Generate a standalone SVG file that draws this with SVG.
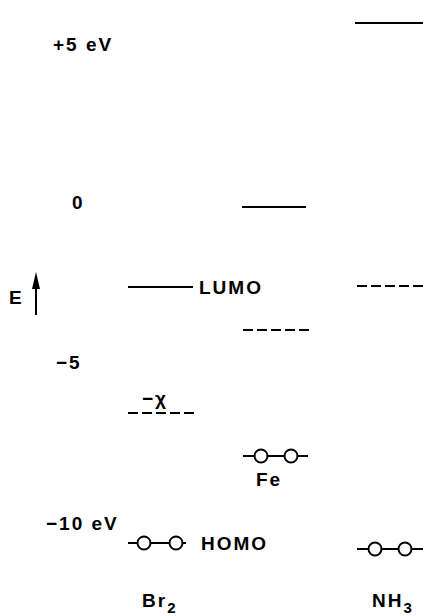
<svg xmlns="http://www.w3.org/2000/svg" width="423" height="616" viewBox="0 0 423 616">
<defs>
<style>
text{font-family:"Liberation Sans",Arial,sans-serif;font-weight:bold;font-size:19px;fill:#000;letter-spacing:2px}
.lv{stroke:#000;stroke-width:2;fill:none}
.ds{stroke:#000;stroke-width:2;fill:none;stroke-dasharray:10,4}
.oc{stroke:#000;stroke-width:2;fill:#fff}
.sub{font-size:15px}
</style>
</defs>
<rect width="423" height="616" fill="#fff"/>
<g id="axis">
<text x="53" y="51">+5 eV</text>
<text x="72" y="209">0</text>
<text x="56" y="369">−5</text>
<text x="46" y="530">−10 eV</text>
<text x="9" y="304" letter-spacing="0">E</text>
</g>
<g id="connectors">
<line x1="36" y1="315" x2="36" y2="284" stroke="#000" stroke-width="2"/>
<path d="M36,272 L40,289 L32,289 z" fill="#000"/>
</g>
<g id="br2">
<line class="lv" x1="128" y1="287" x2="193" y2="287"/>
<text x="199" y="294">LUMO</text>
<text x="142" y="405">−χ</text>
<line class="ds" x1="128" y1="413" x2="197" y2="413"/>
<line class="lv" x1="128" y1="543" x2="186" y2="543"/>
<circle class="oc" cx="144" cy="543" r="6.5"/>
<circle class="oc" cx="176" cy="543" r="6.5"/>
<text x="201" y="550">HOMO</text>
<text x="142" y="607">Br<tspan class="sub" dy="6">2</tspan></text>
</g>
<g id="fe">
<line class="lv" x1="242" y1="207" x2="306" y2="207"/>
<line class="ds" x1="243" y1="330" x2="310" y2="330"/>
<line class="lv" x1="243" y1="456" x2="308" y2="456"/>
<circle class="oc" cx="261" cy="456" r="6.5"/>
<circle class="oc" cx="291" cy="456" r="6.5"/>
<text x="256" y="486">Fe</text>
</g>
<g id="nh3">
<line class="lv" x1="355" y1="23" x2="423" y2="23"/>
<line class="ds" x1="357" y1="286" x2="423" y2="286"/>
<line class="lv" x1="357" y1="549" x2="423" y2="549"/>
<circle class="oc" cx="375" cy="549" r="6.5"/>
<circle class="oc" cx="405" cy="549" r="6.5"/>
<text x="372" y="607">NH<tspan class="sub" dy="6">3</tspan></text>
</g>
</svg>
